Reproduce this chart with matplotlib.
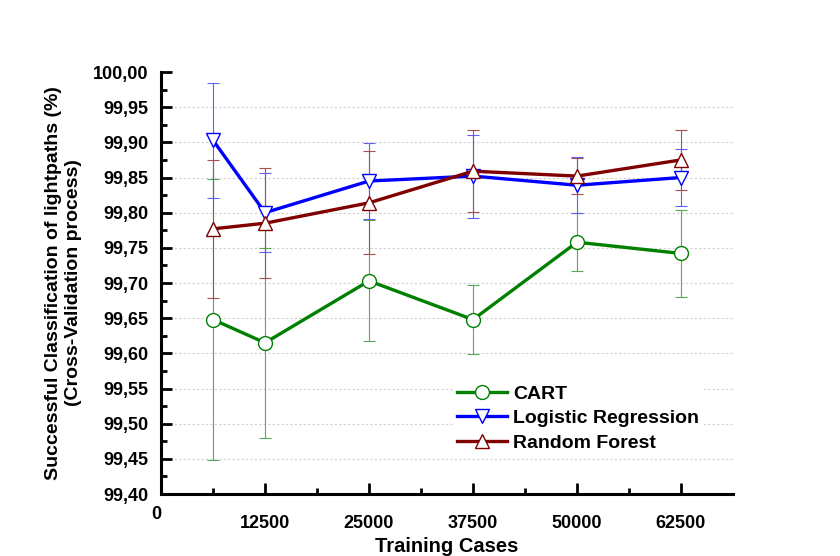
import matplotlib
matplotlib.use("Agg")
import matplotlib.pyplot as plt
from matplotlib.ticker import FixedLocator, MultipleLocator, FuncFormatter

plt.rcParams['font.family'] = ['Liberation Sans', 'DejaVu Sans']

training_cases = [6250, 12500, 25000, 37500, 50000, 62500]

cart_mean = [99.648, 99.615, 99.703, 99.648, 99.758, 99.742]
cart_err = [0.200, 0.135, 0.086, 0.049, 0.041, 0.062]

lr_mean = [99.903, 99.800, 99.845, 99.852, 99.839, 99.850]
lr_err = [0.082, 0.056, 0.054, 0.059, 0.040, 0.041]

rf_mean = [99.777, 99.785, 99.814, 99.859, 99.852, 99.875]
rf_err = [0.098, 0.078, 0.073, 0.058, 0.026, 0.043]

series = [
    ("CART", cart_mean, cart_err, "#008000", "o", "#5aa85a"),
    ("Logistic Regression", lr_mean, lr_err, "#0000ff", "v", "#6060f0"),
    ("Random Forest", rf_mean, rf_err, "#800000", "^", "#a85050"),
]

x_ticks = [12500, 25000, 37500, 50000, 62500]
y_ticks = [99.40, 99.45, 99.50, 99.55, 99.60, 99.65, 99.70, 99.75, 99.80, 99.85, 99.90, 99.95, 100.00]

fig = plt.figure(figsize=(8.4, 5.56), dpi=100)
ax = fig.add_axes([0.1917, 0.1115, 0.6809, 0.759])

for name, m, e, col, mk, ecol in series:
    ax.errorbar(training_cases, m, yerr=e, fmt='none', ecolor=ecol, elinewidth=0.8,
                capsize=4, capthick=0.8, zorder=2)
for name, m, e, col, mk, ecol in series:
    ax.plot(training_cases, m, color=col, lw=2.4, marker=mk, markersize=10,
            markerfacecolor='white', markeredgecolor=col, markeredgewidth=1.0,
            label=name, zorder=3)

ax.set_xlim(0, 68750)
ax.set_ylim(99.40, 100.00)
ax.xaxis.set_major_locator(FixedLocator(x_ticks))
ax.xaxis.set_minor_locator(FixedLocator([6250, 18750, 31250, 43750, 56250]))
ax.yaxis.set_major_locator(FixedLocator(y_ticks))
ax.yaxis.set_minor_locator(MultipleLocator(0.025))
ax.yaxis.set_major_formatter(FuncFormatter(lambda v, p: f"{v:.2f}".replace('.', ',')))
ax.xaxis.set_major_formatter(FuncFormatter(lambda v, p: f"{int(round(v))}"))

for lbl in ax.get_xticklabels() + ax.get_yticklabels():
    lbl.set_fontweight('bold')
ax.tick_params(axis='both', which='major', direction='in', length=8, width=2,
               labelsize=13)
ax.tick_params(axis='both', which='minor', direction='in', length=4, width=2)
ax.tick_params(axis='y', which='major', pad=9)
ax.tick_params(axis='x', which='major', pad=15)

for s in ['top', 'right']:
    ax.spines[s].set_visible(False)
for s in ['left', 'bottom']:
    ax.spines[s].set_linewidth(2.2)

for yv in y_ticks[1:-1]:
    ax.axhline(yv, color='#d0d0d0', lw=0.8, ls=(0, (2, 2)), zorder=0)

ax.text(0, -0.028, "0", transform=ax.get_xaxis_transform(), ha='right', va='top',
        fontsize=13, fontweight='bold')

ax.set_xlabel("Training Cases", fontsize=14.5, fontweight='bold', labelpad=4)
ax.set_ylabel("Successful Classification of lightpaths (%)\n(Cross-Validation process)",
              fontsize=14, fontweight='bold', labelpad=8)

leg = ax.legend(loc='upper left', bbox_to_anchor=(0.493, 0.29), frameon=True,
                framealpha=1, edgecolor='none', facecolor='white',
                prop={'weight': 'bold', 'size': 14}, handlelength=2.6,
                handletextpad=0.3, labelspacing=0.35, borderpad=0.2)

fig.savefig("out.png", dpi=100)
